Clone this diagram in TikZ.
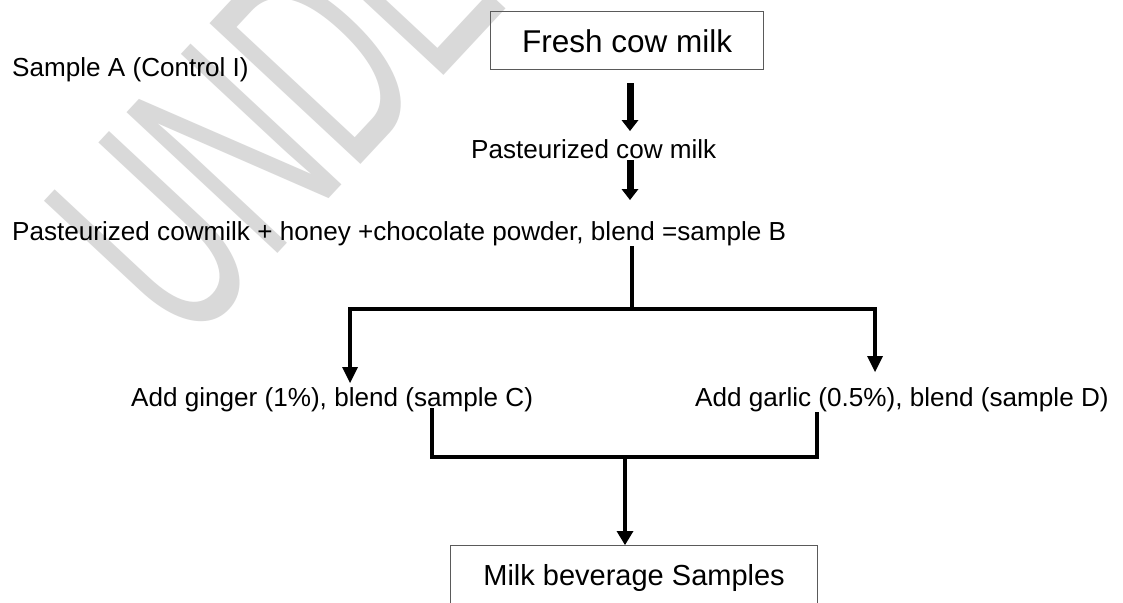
\documentclass[tikz,border=0pt]{standalone}
\usepackage{fontspec}
\setmainfont{Liberation Sans}
\usetikzlibrary{arrows.meta}
\definecolor{wm}{RGB}{217,217,217}
\definecolor{boxgray}{RGB}{90,90,90}
\begin{document}
\begin{tikzpicture}[x=1pt,y=-1pt,
  txt/.style={anchor=base west, inner sep=0pt, font=\fontsize{26.1}{30}\selectfont},
  boxnode/.style={draw=boxgray, line width=1.2pt, inner sep=0pt, anchor=north west},
  bigarrow/.style={line width=7pt, -{Triangle[width=17pt,length=11pt,line width=0pt]}},
  treeline/.style={line width=3.5pt, line join=miter},
  branchtip/.style={line width=3.8pt, line join=miter},
  midarrow/.style={line width=4.5pt, -{Triangle[width=17pt,length=14pt,line width=0pt]}},
]
\useasboundingbox (0,0) rectangle (1123,602);
\clip (0,0) rectangle (1123,602);
\fill[white] (0,0) rectangle (1123,602);
% watermark
\node[anchor=base west, inner sep=0pt, text=wm, rotate=47,
      font=\fontsize{300}{304}\selectfont] (wmk) at (186,352)
      {\scalebox{0.56}[1]{UNDER PEER REVIEW}};
% texts and boxes
\node[txt] (sa) at (12,76) {Sample A (Control I)};
\node[boxnode, font=\fontsize{31.5}{35}\selectfont, minimum width=273pt,
      text height=41pt, text depth=17pt] (fresh) at (490,11) {Fresh cow milk};
\node[txt] (past) at (471,158) {Pasteurized cow milk};
\node[txt] (mix) at (12,240) {Pasteurized cowmilk + honey +chocolate powder, blend =sample B};
\node[txt] (ging) at (131,406) {Add ginger (1\%), blend (sample C)};
\node[txt] (garl) at (695,406) {Add garlic (0.5\%), blend (sample D)};
\node[boxnode, font=\fontsize{29}{33}\selectfont, minimum width=367pt,
      text height=40pt, text depth=40pt] (bev) at (450,545) {Milk beverage Samples};
% connector coordinates
\coordinate (a1s) at (630,83);
\coordinate (a1e) at (630,131);
\coordinate (a2s) at (630,160);
\coordinate (a2e) at (630,200);
\coordinate (bs) at (632,246);
\coordinate (bj) at (632,309);
\coordinate (bl) at (350,309);
\coordinate (br) at (875,309);
\coordinate (blt) at (350,383);
\coordinate (brt) at (875,372);
\coordinate (cl) at (432,408);
\coordinate (cld) at (432,457);
\coordinate (cr) at (817,412);
\coordinate (crd) at (817,457);
\coordinate (cj) at (625,457);
\coordinate (ce) at (625,545);
% connectors
\draw[bigarrow] (a1s) -- (a1e);
\draw[bigarrow] (a2s) -- (a2e);
\draw[treeline] (bs) -- (bj);
\draw[branchtip, {Triangle[width=16pt,length=16pt,line width=0pt]}-{Triangle[width=16pt,length=16pt,line width=0pt]}]
   (blt) -- (bl) -- (br) -- (brt);
\draw[treeline] (cl) -- (cld) -- (crd) -- (cr);
\draw[midarrow] (cj) -- (ce);
\end{tikzpicture}
\end{document}
